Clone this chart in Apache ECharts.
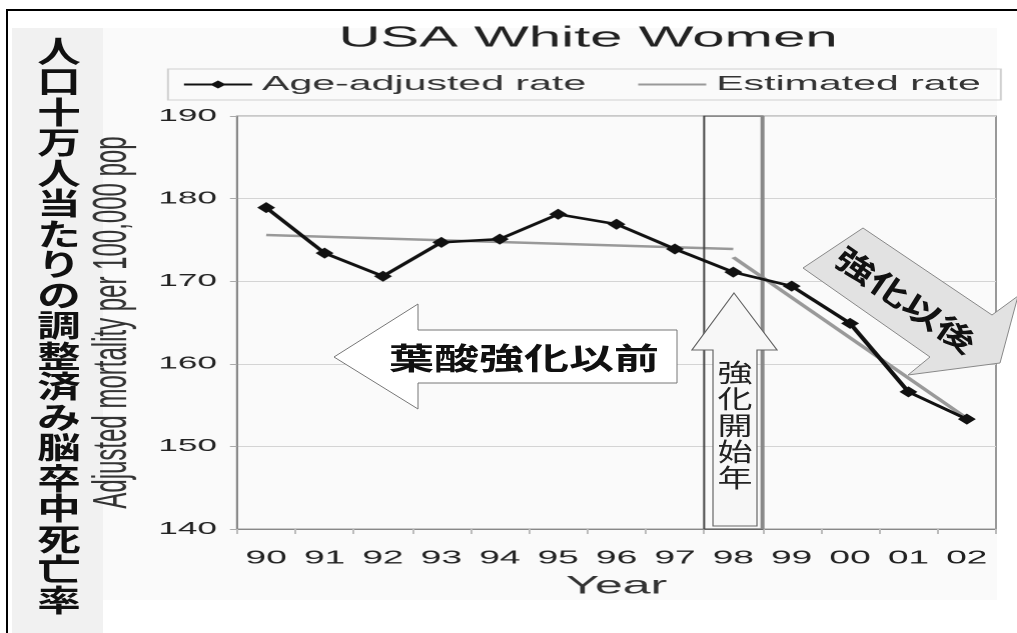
<!DOCTYPE html>
<html>
<head>
<meta charset="utf-8">
<script src="https://cdn.jsdelivr.net/npm/echarts@6/dist/echarts.min.js"></script>
<style>
html,body{margin:0;padding:0;background:#fff;overflow:hidden;width:1017px;height:633px;}
.layer{position:absolute;left:0;top:0;height:633px;}
</style>
</head>
<body>
<div id="bg" class="layer" style="width:1017px"></div>
<div id="main" class="layer" style="width:508px;transform:scaleX(2.002);transform-origin:0 0;"></div>
<div id="ann" class="layer" style="width:1017px;pointer-events:none"></div>
<script>
// ---- data ----
const years = ['90','91','92','93','94','95','96','97','98','99','00','01','02'];
const ageAdjusted = [178.9,173.4,170.6,174.7,175.1,178.1,176.9,173.9,171.1,169.4,164.9,156.6,153.3];
const estimatedBefore = [['90',175.6],['98',173.9]];
const estimatedAfter = [['98',172.9],['02',153.4]];
const yMin = 140, yMax = 190, yStep = 10;
const fortifyYear = '98';
const titleText = 'USA White Women';
const yName = 'Adjusted mortality per 100,000 pop';
const xName = 'Year';
const leftTitle = '人口十万人当たりの調整済み脳卒中死亡率';
const beforeText = '葉酸強化以前';
const startText = '強化開始年';
const afterText = '強化以後';

const SX = 2.002; // horizontal stretch of the chart layer
const L = v => v / SX;

// ---- background layer ----
const bg = echarts.init(document.getElementById('bg'), null, {renderer:'canvas'});
bg.setOption({
  animation:false,
  graphic:[
    {type:'rect', shape:{x:103,y:28,width:894,height:572}, style:{fill:'#fafafa'}},
    {type:'rect', shape:{x:12,y:28,width:91,height:620}, style:{fill:'#f1f1f1'}},
    {type:'rect', shape:{x:7,y:10,width:1030,height:650}, style:{fill:null,stroke:'#000',lineWidth:2}},
    {type:'text', x:59, y:325, scaleX:1.45,
     style:{text:leftTitle.split('').join('\n'), align:'center', verticalAlign:'middle',
            fontSize:30, lineHeight:30.5, fontWeight:'bold', fontFamily:'Noto Sans CJK JP', fill:'#111'}}
  ]
});

// ---- chart layer (stretched horizontally) ----
const chart = echarts.init(document.getElementById('main'), null, {renderer:'canvas', devicePixelRatio:2});
const font = 'Liberation Sans';
chart.setOption({
  animation:false,
  textStyle:{fontFamily:font},
  title:{text:titleText, left:L(588), top:24, textAlign:'center', padding:0,
         textStyle:{fontSize:29, fontWeight:'normal', color:'#222', fontFamily:font}},
  legend:{
    data:[{name:'Age-adjusted rate'},
          {name:'Estimated rate', itemStyle:{color:'rgba(0,0,0,0)', borderWidth:0, opacity:0}}],
    left:L(168), top:69, itemWidth:34, itemHeight:10, itemGap:25,
    padding:[5,10,5,7], borderColor:'#d0d0d0', borderWidth:1,
    textStyle:{fontSize:20.5, color:'#333', fontFamily:font}
  },
  grid:{left:L(237), right:508 - L(996), top:116, bottom:104, show:true, borderColor:'#999', borderWidth:1},
  xAxis:{
    type:'category', data:years, boundaryGap:true,
    name:xName, nameLocation:'middle', nameGap:45,
    nameTextStyle:{fontSize:25, color:'#333', fontFamily:font},
    axisLine:{lineStyle:{color:'#888', width:1}},
    axisTick:{show:true, length:5, lineStyle:{color:'#bbb'}},
    axisLabel:{fontSize:18.5, color:'#222', margin:20, fontFamily:font},
    splitLine:{show:false}
  },
  yAxis:{
    type:'value', min:yMin, max:yMax, interval:yStep,
    name:yName, nameLocation:'middle', nameGap:38,
    nameTextStyle:{fontSize:24, color:'#333', fontFamily:font},
    axisLine:{show:true, lineStyle:{color:'#888', width:1}},
    axisTick:{show:true, length:3.5, lineStyle:{color:'#aaa'}},
    axisLabel:{fontSize:17.5, color:'#222', margin:10, fontFamily:font},
    splitLine:{lineStyle:{color:'#d4d4d4', width:1}}
  },
  series:[
    {name:'fortification', type:'custom', silent:true, z:4,
     data:[[years.indexOf(fortifyYear)]],
     renderItem:function(params, api){
       const idx = api.value(0);
       const top = api.coord([idx, yMax]);
       const bot = api.coord([idx, yMin]);
       const w = api.size([1, 0])[0];
       const x0 = top[0] - w/2, x1 = top[0] + w/2;
       return {type:'group', children:[
         {type:'rect', shape:{x:x0, y:top[1], width:w, height:bot[1]-top[1]},
          style:{fill:null, stroke:'#444', lineWidth:1}},
         {type:'line', shape:{x1:x1, y1:top[1], x2:x1, y2:bot[1]},
          style:{stroke:'#888', lineWidth:2}}
       ]};
     }},
    {name:'Estimated rate', type:'line', data:estimatedBefore, symbol:'none', z:3,
     lineStyle:{color:'#999', width:2.5}, itemStyle:{color:'#999'}},
    {name:'Estimated rate', type:'line', data:estimatedAfter, symbol:'none', z:3,
     lineStyle:{color:'#999', width:2.5}, itemStyle:{color:'#999'}},
    {name:'Age-adjusted rate', type:'line', data:ageAdjusted, z:5,
     symbol:'diamond', symbolSize:[9,11],
     lineStyle:{color:'#111', width:2.5}, itemStyle:{color:'#111'}}
  ]
});

// ---- annotation layer ----
const ann = echarts.init(document.getElementById('ann'), null, {renderer:'canvas'});
ann.setOption({
  animation:false,
  graphic:[
    {type:'polygon', shape:{points:[[334,357],[418,304],[418,330],[677,330],[677,383],[418,383],[418,409]]},
     style:{fill:'#fff', stroke:'#777', lineWidth:1}},
    {type:'text', x:524, y:358, scaleX:1.5,
     style:{text:beforeText, align:'center', verticalAlign:'middle', fontSize:30, fontWeight:'bold',
            fontFamily:'Noto Sans CJK JP', fill:'#111'}},
    {type:'polygon', shape:{points:[[734,293],[777,350],[757,350],[757,526],[713,526],[713,350],[692,350]]},
     style:{fill:'#f7f7f7', stroke:'#666', lineWidth:1.2}},
    {type:'text', x:735, y:425, scaleX:1.4,
     style:{text:startText.split('').join('\n'), align:'center', verticalAlign:'middle', fontSize:25,
            lineHeight:26.3, fontFamily:'Noto Sans CJK JP', fill:'#222'}},
    {type:'polygon', shape:{points:[[863,228],[992,315],[1018,296],[1000,363],[908,375],[930,357],[803,268]]},
     style:{fill:'#e2e2e2', stroke:'#888', lineWidth:1}},
    {type:'text', x:906, y:300, rotation:-34.5*Math.PI/180, scaleX:1.35,
     style:{text:afterText, align:'center', verticalAlign:'middle', fontSize:30, fontWeight:'bold',
            fontFamily:'Noto Sans CJK JP', fill:'#111'}}
  ]
});
</script>
</body>
</html>
